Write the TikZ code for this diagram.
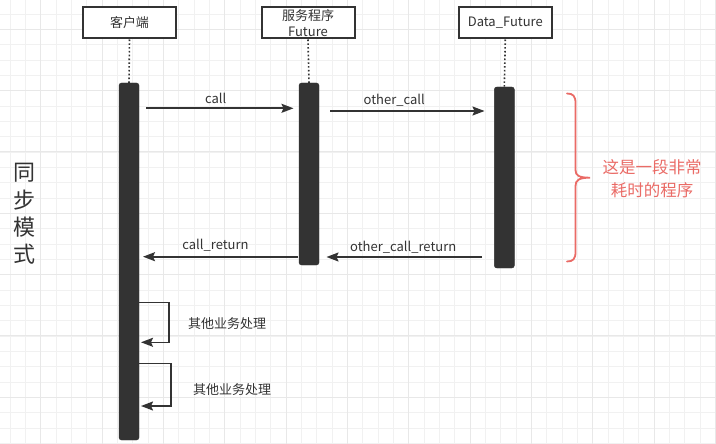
\documentclass[tikz,border=0pt]{standalone}
\usepackage{fontspec}
\setmainfont{Noto Sans CJK SC}
\usetikzlibrary{arrows.meta,calc}
\definecolor{ink}{HTML}{333333}
\definecolor{gridminor}{HTML}{F1F1F1}
\definecolor{gridmajor}{HTML}{E8E8E8}
\definecolor{redink}{HTML}{EA6B66}
\begin{document}
\begin{tikzpicture}[x=1pt,y=-1pt,
  actor/.style={draw=ink,line width=2pt,fill=white,minimum width=93pt,minimum height=31pt,inner sep=0pt,align=center,font=\fontsize{13}{16.5}\selectfont,text=ink},
  bar/.style={fill=ink,draw=ink,rounded corners=2.5pt,minimum width=20pt,inner sep=0pt},
  life/.style={draw=ink,line width=1.6pt,dash pattern=on 1.6pt off 2.2pt},
  msg/.style={draw=ink,line width=1.6pt,-{Stealth[length=12pt,width=9pt,inset=2pt]}},
  lbl/.style={font=\fontsize{13}{15}\selectfont,text=ink,inner sep=0pt},
  brace/.style={draw=redink,line width=1.8pt,line cap=round}]
\useasboundingbox (0,0) rectangle (716,444);
\fill[white] (0,0) rectangle (716,444);
% grid
\foreach \i in {0,...,46} {\draw[gridminor,line width=0.8pt] ({10+15.333*\i},0) -- ({10+15.333*\i},444);}
\foreach \i in {0,...,28} {\draw[gridminor,line width=0.8pt] (0,{14+15.333*\i}) -- (716,{14+15.333*\i});}
\foreach \i in {0,...,11} {\draw[gridmajor,line width=1pt] ({40.67+61.333*\i},0) -- ({40.67+61.333*\i},444);}
\foreach \i in {0,...,7} {\draw[gridmajor,line width=1pt] (0,{29.33+61.333*\i}) -- (716,{29.33+61.333*\i});}
% actors
\node[actor] (client) at (129.5,23) {客户端};
\node[actor] (server) at (308,23) {服务程序\\Future};
\node[actor] (data) at (505.3,23) {Data\_Future};
% activation bars
\node[bar,minimum height=357pt] (cb) at (129,261.5) {};
\node[bar,minimum height=182pt] (sb) at (309,174) {};
\node[bar,minimum height=181pt] (db) at (504.3,177.5) {};
% lifelines
\draw[life] (client.south) -- (cb.north);
\draw[life] (server.south) -- (sb.north);
\draw[life] (data.south) -- (db.north);
% messages
\coordinate (m1s) at (146,108.3);
\coordinate (m1e) at (293.5,108.3);
\draw[msg] (m1s) -- node[lbl,above=4pt,xshift=-4pt] {call} (m1e);
\coordinate (m2s) at (330,111);
\coordinate (m2e) at (484.5,111);
\draw[msg] (m2s) -- node[lbl,above=4pt,xshift=-13pt] {other\_call} (m2e);
\coordinate (m3s) at (298,256.7);
\coordinate (m3e) at (143,256.7);
\draw[msg] (m3s) -- node[lbl,above=5pt,xshift=-5pt] {call\_return} (m3e);
\coordinate (m4s) at (482,257);
\coordinate (m4e) at (326.5,257);
\draw[msg] (m4s) -- node[lbl,above=3pt,xshift=-1pt] {other\_call\_return} (m4e);
% self loops
\coordinate (s1a) at (139,302.3);
\coordinate (s1b) at (141,342.3);
\draw[msg] (s1a) -- (169,302.3) -- (169,342.3) -- (s1b);
\node[lbl] (t1) at (227,323.5) {其他业务处理};
\coordinate (s2a) at (139,363.3);
\coordinate (s2b) at (141,406);
\draw[msg] (s2a) -- (171,363.3) -- (171,406) -- (s2b);
\node[lbl] (t2) at (232,389.5) {其他业务处理};
% left vertical title
\node[font=\fontsize{22}{27.3}\selectfont,text=ink,align=center,inner sep=0pt] (mode) at (24,214) {同\\步\\模\\式};
% brace and note
\draw[brace] (567,93.5) .. controls (573,93.5) and (575.5,96) .. (575.5,103)
  -- (575.5,170) .. controls (575.5,175.5) and (579,177.7) .. (590,177.7)
  .. controls (579,177.7) and (575.5,180) .. (575.5,186)
  -- (575.5,252) .. controls (575.5,259) and (573,261.5) .. (567,261.5);
\node[font=\fontsize{16.5}{23}\selectfont,text=redink,align=center,inner sep=0pt] (note) at (652,178.5) {这是一段非常\\耗时的程序};
\end{tikzpicture}
\end{document}
